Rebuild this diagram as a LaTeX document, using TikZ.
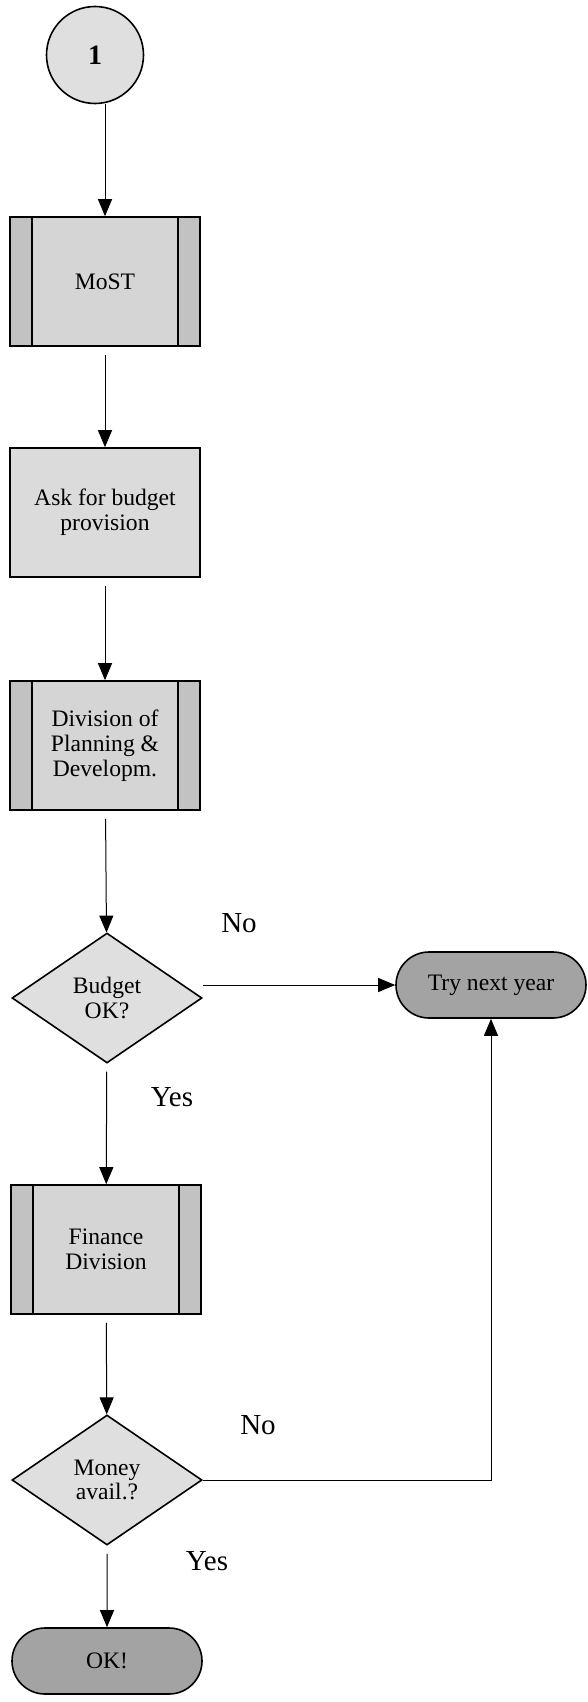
\documentclass[tikz,border=0pt]{standalone}
\usepackage{fontspec}
\setmainfont{Liberation Serif}
\usetikzlibrary{shapes.geometric,shapes.misc,arrows.meta}

\begin{document}
\begin{tikzpicture}[x=0.5pt,y=-0.5pt,
	every node/.style={font=\fontsize{11.8}{12.4}\selectfont,align=center},
	base/.style={draw,line width=0.8pt,inner sep=0pt},
	conn/.style={base,circle,fill=gray!25,minimum size=48.5pt,font=\fontsize{14}{15}\selectfont\bfseries},
	task/.style={base,rectangle,fill=gray!28,minimum width=95pt,minimum height=64.5pt},
	subproc/.style={task,fill=gray!33,path picture={
		\fill[gray!48] (path picture bounding box.north west) rectangle ([xshift=11pt]path picture bounding box.south west);
		\fill[gray!48] (path picture bounding box.north east) rectangle ([xshift=-11pt]path picture bounding box.south east);
		\draw[line width=0.8pt] ([xshift=11pt]path picture bounding box.north west) -- ([xshift=11pt]path picture bounding box.south west);
		\draw[line width=0.8pt] ([xshift=-11pt]path picture bounding box.north east) -- ([xshift=-11pt]path picture bounding box.south east);}},
	decide/.style={base,diamond,fill=gray!25,minimum width=95pt,minimum height=65pt},
	stopbox/.style={base,rounded rectangle,fill=gray!72,minimum width=95pt,minimum height=33pt},
	flow/.style={line width=0.5pt,-{Triangle[length=8.5pt,width=7pt]},shorten <=4pt},
	lbl/.style={font=\fontsize{14.5}{15}\selectfont}]
	\useasboundingbox (0,0) rectangle (588,1702);
	% main column
	\node[conn] (one) at (95,55) {1};
	\node[subproc] (most) at (105,281.5) {MoST};
	\node[task] (ask) at (105,512.5) {Ask for budget\\provision};
	\node[subproc] (plan) at (105,745.5) {Division of\\Planning \&\\Developm.};
	\node[decide] (budget) at (107,998) {Budget\\OK?};
	\node[subproc] (finance) at (106,1249.5) {Finance\\Division};
	\node[decide] (money) at (107,1480) {Money\\avail.?};
	\node[stopbox] (ok) at (107,1661) {OK!};
	% side exit
	\node[stopbox] (retry) at (491,985) {Try next year};
	% branch labels
	\node[lbl] (no1) at (239,923) {No};
	\node[lbl] (yes1) at (172,1097) {Yes};
	\node[lbl] (no2) at (258,1425) {No};
	\node[lbl] (yes2) at (207,1561) {Yes};
	% connectors
	\draw[flow,shorten <=0pt] (most.north |- one.south) -- (most.north);
	\draw[flow] (most) -- (ask);
	\draw[flow] (ask) -- (plan);
	\draw[flow] (plan) -- (budget);
	\draw[flow] (budget) -- (finance);
	\draw[flow] (finance) -- (money);
	\draw[flow] (money) -- (ok);
	\draw[flow,shorten <=0pt] (budget.east |- retry.west) -- (retry.west);
	\draw[flow,shorten <=0pt] (money.east) -| (retry.south);
\end{tikzpicture}
\end{document}
